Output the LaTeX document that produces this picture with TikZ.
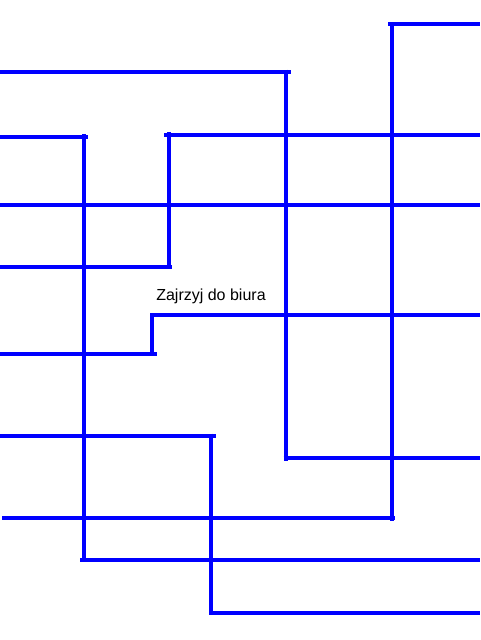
\documentclass[tikz,border=0pt]{standalone}
\usepackage{fontspec}
\setmainfont{Liberation Sans}
\begin{document}
\begin{tikzpicture}[x=1pt,y=-1pt,
  wire/.style={draw={rgb,255:red,0;green,0;blue,255},line width=4pt,line cap=butt},
  lbl/.style={inner sep=0pt,anchor=base,font=\fontsize{16}{19}\selectfont}]
\useasboundingbox[fill=white] (0,0) rectangle (480,640);
% path A
\draw[wire] (388.3,24)--(480,24);
\draw[wire] (392,22)--(392,520.7);
\draw[wire] (2,518)--(395,518);
% path B
\draw[wire] (0,71.7)--(290.7,71.7);
\draw[wire] (285.7,69.7)--(285.7,460.7);
\draw[wire] (283.7,457.8)--(480,457.8);
% path C
\draw[wire] (0,136.8)--(87.7,136.8);
\draw[wire] (84,134.3)--(84,561.7);
\draw[wire] (80,559.7)--(480,559.7);
% path D
\draw[wire] (164.3,134.8)--(480,134.8);
\draw[wire] (169,132)--(169,268.7);
\draw[wire] (0,266.8)--(172.3,266.8);
% path E
\draw[wire] (0,204.7)--(480,204.7);
% path F
\draw[wire] (150.7,315)--(480,315);
\draw[wire] (152.3,313)--(152.3,356);
\draw[wire] (0,354)--(156.7,354);
% path G
\draw[wire] (0,435.7)--(216,435.7);
\draw[wire] (211,433.7)--(211,615);
\draw[wire] (209,613)--(480,613);
% label
\node[lbl] (label) at (211,300.3) {Zajrzyj do biura};
\end{tikzpicture}
\end{document}
